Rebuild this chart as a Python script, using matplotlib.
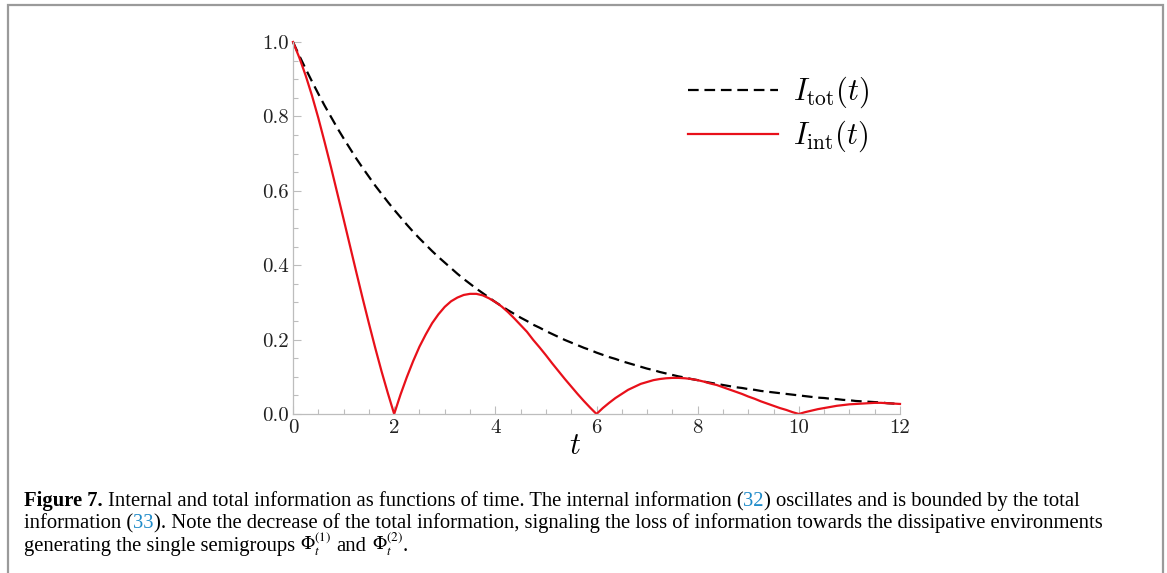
import matplotlib
matplotlib.use("Agg")
import matplotlib.pyplot as plt
from matplotlib.patches import Rectangle
from matplotlib.ticker import MultipleLocator

# values (step 0.125 in t)
t = [0.0, 0.125, 0.25, 0.375, 0.5, 0.625, 0.75, 0.875,
     1.0, 1.125, 1.25, 1.375, 1.5, 1.625, 1.75, 1.875,
     2.0, 2.125, 2.25, 2.375, 2.5, 2.625, 2.75, 2.875,
     3.0, 3.125, 3.25, 3.375, 3.5, 3.625, 3.75, 3.875,
     4.0, 4.125, 4.25, 4.375, 4.5, 4.625, 4.75, 4.875,
     5.0, 5.125, 5.25, 5.375, 5.5, 5.625, 5.75, 5.875,
     6.0, 6.125, 6.25, 6.375, 6.5, 6.625, 6.75, 6.875,
     7.0, 7.125, 7.25, 7.375, 7.5, 7.625, 7.75, 7.875,
     8.0, 8.125, 8.25, 8.375, 8.5, 8.625, 8.75, 8.875,
     9.0, 9.125, 9.25, 9.375, 9.5, 9.625, 9.75, 9.875,
     10.0, 10.125, 10.25, 10.375, 10.5, 10.625, 10.75, 10.875,
     11.0, 11.125, 11.25, 11.375, 11.5, 11.625, 11.75, 11.875, 12.0]
I_tot = [1.000, 0.963, 0.928, 0.894, 0.861, 0.829, 0.799, 0.769,
         0.741, 0.714, 0.687, 0.662, 0.638, 0.614, 0.592, 0.570,
         0.549, 0.529, 0.509, 0.490, 0.472, 0.455, 0.438, 0.422,
         0.407, 0.392, 0.377, 0.363, 0.350, 0.337, 0.325, 0.313,
         0.301, 0.290, 0.279, 0.269, 0.259, 0.250, 0.240, 0.232,
         0.223, 0.215, 0.207, 0.199, 0.192, 0.185, 0.178, 0.172,
         0.165, 0.159, 0.153, 0.148, 0.142, 0.137, 0.132, 0.127,
         0.122, 0.118, 0.113, 0.109, 0.105, 0.101, 0.098, 0.094,
         0.091, 0.087, 0.084, 0.081, 0.078, 0.075, 0.072, 0.070,
         0.067, 0.065, 0.062, 0.060, 0.058, 0.056, 0.054, 0.052,
         0.050, 0.048, 0.046, 0.044, 0.043, 0.041, 0.040, 0.038,
         0.037, 0.035, 0.034, 0.033, 0.032, 0.031, 0.029, 0.028, 0.027]
I_int = [1.000, 0.958, 0.910, 0.856, 0.796, 0.731, 0.664, 0.594,
         0.524, 0.453, 0.382, 0.312, 0.244, 0.178, 0.115, 0.056,
         0.000, 0.052, 0.099, 0.142, 0.181, 0.214, 0.244, 0.268,
         0.288, 0.303, 0.313, 0.320, 0.323, 0.323, 0.319, 0.311,
         0.301, 0.289, 0.274, 0.257, 0.239, 0.221, 0.199, 0.179,
         0.158, 0.136, 0.115, 0.094, 0.074, 0.054, 0.035, 0.017,
         0.000, 0.016, 0.030, 0.043, 0.054, 0.065, 0.073, 0.081,
         0.086, 0.091, 0.094, 0.096, 0.097, 0.097, 0.096, 0.094,
         0.091, 0.087, 0.082, 0.078, 0.072, 0.066, 0.060, 0.054,
         0.047, 0.041, 0.034, 0.028, 0.022, 0.016, 0.011, 0.005,
         0.000, 0.005, 0.009, 0.013, 0.016, 0.019, 0.022, 0.024,
         0.026, 0.027, 0.028, 0.029, 0.030, 0.030, 0.029, 0.028, 0.027]

labels = [r"$I_{\rm tot}(t)$", r"$I_{\rm int}(t)$"]

plt.rcParams["mathtext.fontset"] = "cm"

W, H = 1167, 573
fig = plt.figure(figsize=(W / 100, H / 100), dpi=100)

# outer frame
fig.patches.append(Rectangle((8 / W, -0.05), 1155 / W, 1.05 - 5 / H, transform=fig.transFigure,
                             fill=False, edgecolor="#9a9a9a", linewidth=1.6))

ax = fig.add_axes([293 / W, 1 - 414 / H, 607 / W, 372 / H])
ax.plot(t, I_tot, color="black", linestyle=(0, (4.8, 2.6)), linewidth=1.6, label=labels[0], clip_on=False)
ax.plot(t, I_int, color="#e8101a", linewidth=1.6, label=labels[1], clip_on=False)

ax.set_xlim(0, 12)
ax.set_ylim(0, 1)
for s in ["top", "right"]:
    ax.spines[s].set_visible(False)
for s in ["left", "bottom"]:
    ax.spines[s].set_color("#bdbdbd")
    ax.spines[s].set_linewidth(0.9)

ax.xaxis.set_major_locator(MultipleLocator(2))
ax.xaxis.set_minor_locator(MultipleLocator(0.5))
ax.yaxis.set_major_locator(MultipleLocator(0.2))
ax.yaxis.set_minor_locator(MultipleLocator(0.05))
ax.tick_params(which="both", direction="in", color="#bdbdbd", width=0.8)
ax.tick_params(which="major", length=6)
ax.tick_params(which="minor", length=3.5)
ax.tick_params(axis="x", pad=4)
ax.tick_params(axis="y", pad=3)
for lab in ax.get_xticklabels() + ax.get_yticklabels():
    lab.set_fontfamily("cmr10")
    lab.set_fontsize(15)
    lab.set_color("#222222")

ax.set_xlabel(r"$t$", fontsize=22)
ax.xaxis.set_label_coords((575 - 293) / 607, (414 - 446) / 372)
ax.xaxis.label.set_va("center")

leg = fig.legend(loc="upper left", bbox_to_anchor=(688 / W, 1 - 75 / H), frameon=False,
                 fontsize=22, handlelength=2.95, handletextpad=0.5, labelspacing=0.28,
                 borderpad=0, borderaxespad=0)

# caption
cap_font = "Liberation Serif"
cap_size = 14.9
blue = "#1f8bc9"
renderer = fig.canvas.get_renderer()


def put(x, y, s, size=cap_size, **kw):
    txt = fig.text(x / W, 1 - y / H, s, fontfamily=cap_font, fontsize=size,
                   va="baseline", ha="left", **kw)
    return x + txt.get_window_extent(renderer).width


probe = fig.text(0, 0, "a a", fontfamily=cap_font, fontsize=cap_size)
probe2 = fig.text(0, 0, "aa", fontfamily=cap_font, fontsize=cap_size)
space = probe.get_window_extent(renderer).width - probe2.get_window_extent(renderer).width
probe.remove()
probe2.remove()

x0 = 24
x = put(x0, 506, "Figure 7.", fontweight="bold")
x = put(x + space, 506, "Internal and total information as functions of time. The internal information (")
x = put(x, 506, "32", color=blue)
x = put(x, 506, ") oscillates and is bounded by the total")

x = put(x0, 528, "information (")
x = put(x, 528, "33", color=blue)
x = put(x, 528, "). Note the decrease of the total information, signaling the loss of information towards the dissipative environments")

y3 = 551
x = put(x0, y3, "generating the single semigroups")
x = put(x + space, y3, r"$\Phi_t^{(1)}$", size=13.5, math_fontfamily="stix")
x = put(x + space, y3, "and")
x = put(x + space, y3, r"$\Phi_t^{(2)}$", size=13.5, math_fontfamily="stix")
put(x, y3, ".")

fig.savefig("out.png", dpi=100)
